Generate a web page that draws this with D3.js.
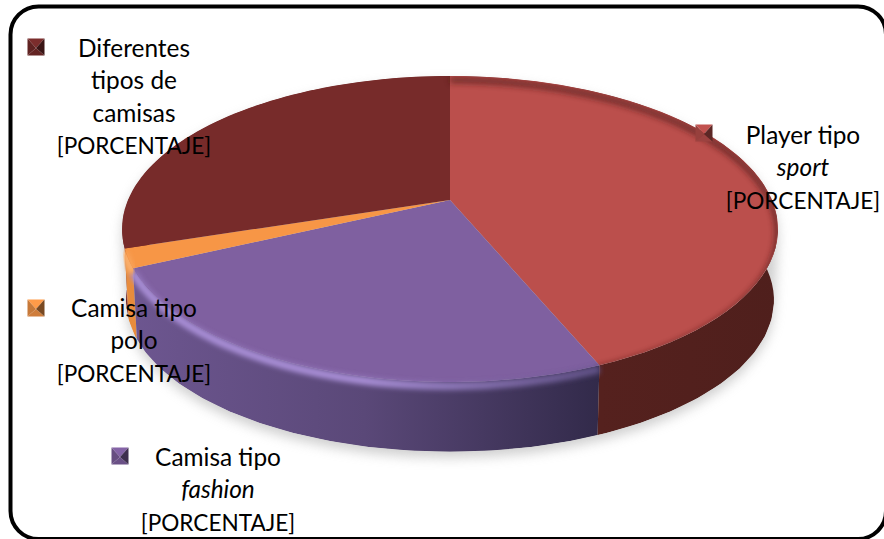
<!DOCTYPE html>
<html><head><meta charset="utf-8">
<script src="https://cdn.jsdelivr.net/npm/d3@7"></script>
<style>html,body{margin:0;padding:0;background:#fff;overflow:hidden}</style>
</head><body><svg id="c" width="884" height="539"></svg>
<script>
const categories = ["Player tipo sport","Camisa tipo fashion","Camisa tipo polo","Diferentes tipos de camisas"];
const shares = [43.75,24.25,2,30];
const topColors = ["#bb4f4c","#7f60a0","#f79646","#772b2a"];
const sideLeft = ["#55211e","#6d5690","#e88c3c","#772b2a"];
const sideRight = ["#4f1f1c","#322a4a","#d9822f","#772b2a"];
const bevelColors = ["#c65a56","#a88ed6","#fbb06e","#7f3230"];
const legendLines = [
 [{t:"Player tipo"},{t:"sport",i:1},{t:"[PORCENTAJE]",c:1}],
 [{t:"Camisa tipo"},{t:"fashion",i:1},{t:"[PORCENTAJE]",c:1}],
 [{t:"Camisa tipo"},{t:"polo"},{t:"[PORCENTAJE]",c:1}],
 [{t:"Diferentes"},{t:"tipos de"},{t:"camisas"},{t:"[PORCENTAJE]",c:1}]
];
const legendPos = [
 {cx:803,y:144,mx:704,my:133},
 {cx:218,y:466,mx:120,my:456},
 {cx:134,y:317,mx:36,my:308},
 {cx:134,y:57,mx:36,my:47}
];
const svg = d3.select("#c");
const defs = svg.append("defs");
const K=0.1896,A=147.5,B=322,CX=450,CY=200;
function proj(a,r=1,s=1,dy=0){ // a clockwise from top
  const u=r*Math.sin(a),v=-r*Math.cos(a),w=1-K*v;
  return [CX+s*B*u/w, CY+dy+s*A*v/w];
}
const DEPTH=72,BS=0.988;
const pie=d3.pie().sort(null).value(d=>d)(shares);
const line=d3.line();
function arcPts(a0,a1,s=1,dy=0,r=1){return d3.range(0,61).map(i=>proj(a0+(a1-a0)*i/60,r,s,dy));}
const blur=(id,sd)=>defs.append("filter").attr("id",id).attr("x","-20%").attr("y","-20%").attr("width","140%").attr("height","140%")
  .append("feGaussianBlur").attr("stdDeviation",sd);
blur("shadow",6);blur("bev",3.2);blur("bev2",2.4);
pie.forEach((p,i)=>{
  const g=defs.append("linearGradient").attr("id","side"+i).attr("gradientUnits","userSpaceOnUse")
    .attr("x1",i==1?130:600).attr("x2",i==1?600:780).attr("y1",0).attr("y2",0);
  g.append("stop").attr("offset",0).attr("stop-color",sideLeft[i]);
  if(i==1) g.append("stop").attr("offset",0.5).attr("stop-color","#5a4878");
  g.append("stop").attr("offset",1).attr("stop-color",sideRight[i]);
});
const full=arcPts(0,2*Math.PI);
const fullB=arcPts(0,2*Math.PI,BS,DEPTH);
defs.append("clipPath").attr("id","topClip").append("path").attr("d",line(full)+"Z");
const hull=d3.polygonHull(full.concat(fullB));
defs.append("clipPath").attr("id","solidClip").append("path").attr("d",line(hull)+"Z");
// shadow
svg.append("path").attr("d",line(hull.map(d=>[d[0],d[1]+6]))+"Z").attr("fill","#a8a8a8").attr("opacity",.55).attr("filter","url(#shadow)");
// sides
const solid=svg.append("g").attr("clip-path","url(#solidClip)");
[3,2,1,0].forEach(i=>{
  const p=pie[i];
  const t=arcPts(p.startAngle,p.endAngle),b=arcPts(p.startAngle,p.endAngle,BS,DEPTH).reverse();
  solid.append("path").attr("d",line(t.concat(b))+"Z").attr("fill",`url(#side${i})`);
});
// bevel glow on the rim
pie.forEach((p,i)=>{
  if(i==3||i==0) return;
  const g=defs.append("linearGradient").attr("id","bevS"+i).attr("gradientUnits","userSpaceOnUse").attr("x1",130).attr("x2",600).attr("y1",0).attr("y2",0);
  g.append("stop").attr("offset",0).attr("stop-color",bevelColors[i]);
  g.append("stop").attr("offset",.5).attr("stop-color",bevelColors[i]);
  g.append("stop").attr("offset",1).attr("stop-color",i==1?"#5f5084":bevelColors[i]);
  solid.append("path").attr("d",line(arcPts(p.startAngle,p.endAngle,1,4))).attr("fill","none")
    .attr("stroke",`url(#bevS${i})`).attr("stroke-width",8).attr("filter","url(#bev2)");
});
// top
const topG=svg.append("g");
pie.forEach((p,i)=>{
  topG.append("path").attr("d",line([[CX,CY]].concat(arcPts(p.startAngle,p.endAngle)))+"Z").attr("fill",topColors[i]);
});
// soft edge of the top towards the rim
const soft=svg.append("g").attr("clip-path","url(#topClip)");
pie.forEach((p,i)=>{
  if(i==3) return;
  soft.append("path").attr("d",line(arcPts(p.startAngle,p.endAngle,1,4))).attr("fill","none")
    .attr("stroke",i==0?"#4f1f1c":`url(#bevS${i})`).attr("stroke-width",5).attr("filter","url(#bev)").attr("opacity",i==0?.85:.9);
});
// legend
const font="Lato, 'Open Sans', sans-serif";
const leg=svg.append("g");
legendLines.forEach((ls,i)=>{
  const P=legendPos[i],c=topColors[i],m=8.5;
  const d=d3.color(c);
  const tri=(pts,f)=>leg.append("path").attr("d",line(pts)+"Z").attr("fill",f);
  const x=P.mx,y=P.my;
  tri([[x-m,y-m],[x+m,y-m],[x,y+1]],d.brighter(.1));
  tri([[x-m,y+m],[x+m,y+m],[x,y+1]],d.darker(.5));
  tri([[x-m,y-m],[x-m,y+m],[x,y+1]],d.darker(.6));
  tri([[x+m,y-m],[x+m,y+m],[x,y+1]],d.darker(2));
  ls.forEach((l,j)=>{
    leg.append("text").attr("x",P.cx).attr("y",P.y+j*32.4).attr("text-anchor","middle")
      .attr("font-family",font).attr("font-size",l.c?22.6:24.4).attr("font-style",l.i?"italic":"normal").attr("fill","#000").text(l.t);
  });
});
// frame
svg.append("rect").attr("x",10.5).attr("y",6.5).attr("width",875.5).attr("height",532.5).attr("rx",28).attr("fill","none").attr("stroke","#000").attr("stroke-width",4);
</script></body></html>
